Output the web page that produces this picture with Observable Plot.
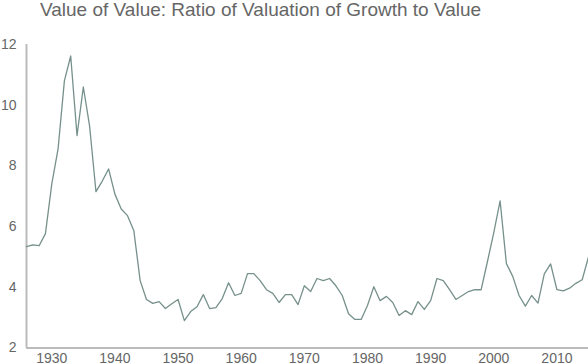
<!DOCTYPE html>
<html>
<head>
<meta charset="utf-8">
<script src="https://cdn.jsdelivr.net/npm/d3@7"></script>
<script src="https://cdn.jsdelivr.net/npm/@observablehq/plot@0.6"></script>
<style>
  body { margin: 0; background: #fff; font-family: "Liberation Sans", Arial, sans-serif; }
  #wrap { position: relative; width: 588px; height: 364px; overflow: hidden; }
  #title { position: absolute; left: 40px; top: -2px; font-size: 19px; color: #666; white-space: nowrap; line-height: 24px; }
  #chart { position: absolute; left: 0; top: 30px; }
</style>
</head>
<body>
<div id="wrap">
  <div id="title">Value of Value: Ratio of Valuation of Growth to Value</div>
  <div id="chart"></div>
</div>
<script>
const years = d3.range(1926, 2016);
const ratio = [
  5.34, 5.40, 5.37, 5.77, 7.40, 8.56, 10.80, 11.62, 9.00, 10.60,
  9.30, 7.15, 7.50, 7.90, 7.07, 6.58, 6.36, 5.86, 4.22, 3.60,
  3.47, 3.53, 3.30, 3.46, 3.60, 2.90, 3.20, 3.36, 3.76, 3.30,
  3.33, 3.63, 4.15, 3.73, 3.80, 4.45, 4.45, 4.22, 3.92, 3.80,
  3.50, 3.76, 3.76, 3.43, 4.05, 3.86, 4.29, 4.22, 4.29, 4.05,
  3.73, 3.13, 2.94, 2.94, 3.40, 4.02, 3.56, 3.70, 3.50, 3.07,
  3.23, 3.10, 3.53, 3.27, 3.56, 4.29, 4.22, 3.92, 3.60, 3.73,
  3.86, 3.92, 3.92, 4.85, 5.80, 6.85, 4.78, 4.36, 3.73, 3.38,
  3.73, 3.48, 4.44, 4.77, 3.92, 3.88, 3.97, 4.13, 4.25, 5.00
];
const yTicks = [2, 4, 6, 8, 10, 12];
const xTicks = [1930, 1940, 1950, 1960, 1970, 1980, 1990, 2000, 2010];
const data = years.map((y, i) => ({year: y, value: ratio[i]}));

const chart = Plot.plot({
  width: 588,
  height: 334,
  marginLeft: 26,
  marginRight: 0,
  marginTop: 14,
  marginBottom: 16.5,
  style: { fontFamily: "Liberation Sans, Arial, sans-serif", fontSize: "14px", color: "#666", background: "transparent" },
  x: { domain: [1926, 2015], ticks: xTicks, tickFormat: d => String(d), tickSize: 0, tickPadding: 5, label: null },
  y: { domain: [2, 12], ticks: yTicks, tickSize: 0, tickPadding: 10, label: null },
  marks: [
    Plot.ruleY([2], { stroke: "#bbb", strokeWidth: 2 }),
    Plot.ruleX([1926], { stroke: "#bbb", strokeWidth: 2 }),
    Plot.lineY(data, { x: "year", y: "value", stroke: "#76908b", strokeWidth: 1.3 })
  ]
});
document.getElementById("chart").appendChild(chart);
</script>
</body>
</html>
